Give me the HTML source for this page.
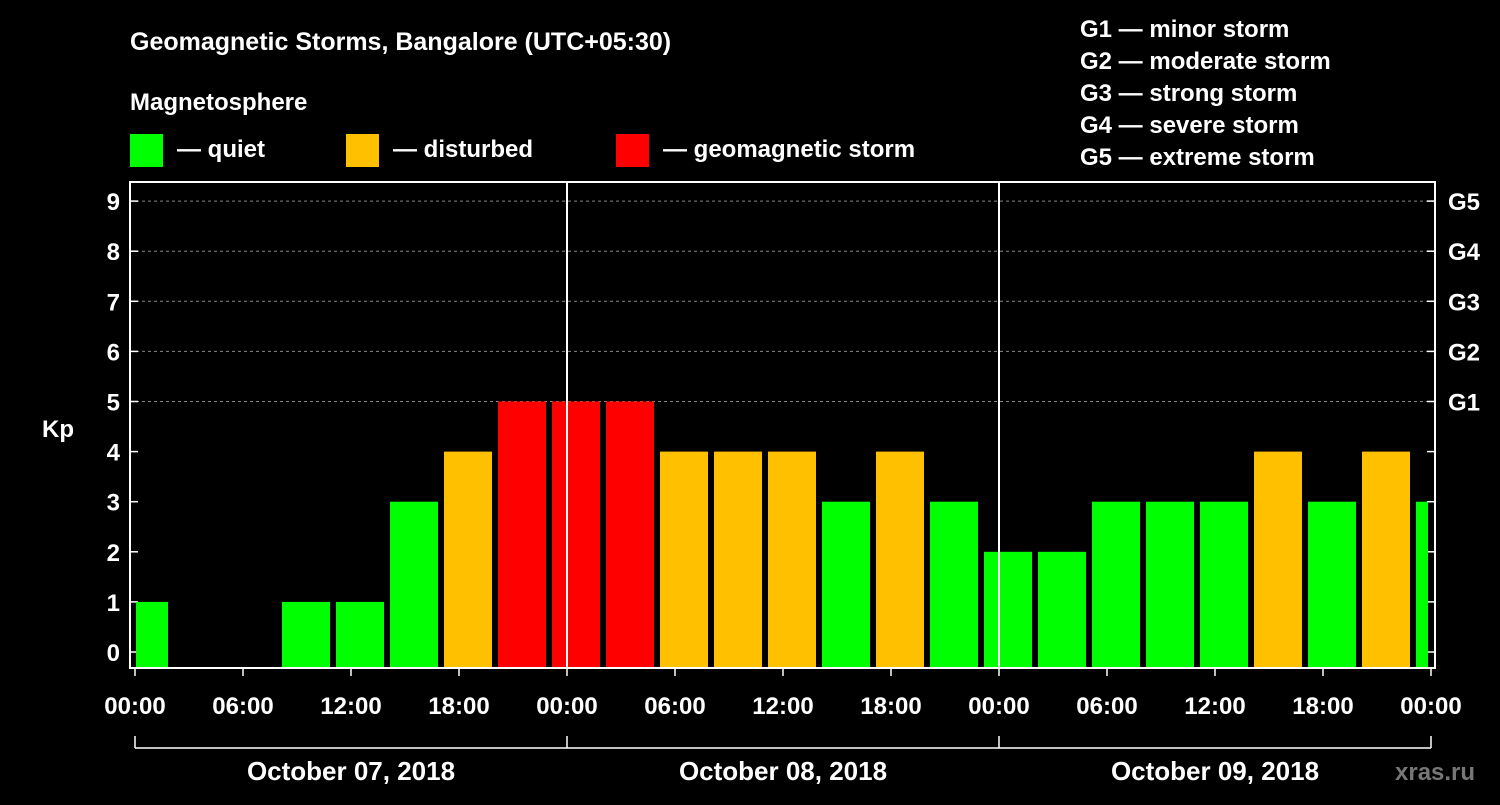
<!DOCTYPE html>
<html><head><meta charset="utf-8"><style>
body{margin:0;background:#000;}
svg text{font-family:"Liberation Sans",Arial,sans-serif;font-weight:bold;fill:#fff;}
</style></head><body>
<svg id="chart" width="1500" height="800" viewBox="0 0 1500 800" xmlns="http://www.w3.org/2000/svg">
<rect width="1500" height="800" fill="#000"/>
<text x="130" y="50" font-size="25">Geomagnetic Storms, Bangalore (UTC+05:30)</text>
<text x="130" y="110" font-size="24">Magnetosphere</text>
<g>
<rect x="130" y="134" width="33" height="33" fill="#00ff00"/>
<text x="177" y="157" font-size="24">— quiet</text>
<rect x="346" y="134" width="33" height="33" fill="#ffc000"/>
<text x="393" y="157" font-size="24">— disturbed</text>
<rect x="616" y="134" width="33" height="33" fill="#ff0000"/>
<text x="663" y="157" font-size="24">— geomagnetic storm</text>
</g>
<g font-size="24">
<text x="1080" y="37">G1 — minor storm</text>
<text x="1080" y="69">G2 — moderate storm</text>
<text x="1080" y="101">G3 — strong storm</text>
<text x="1080" y="133">G4 — severe storm</text>
<text x="1080" y="165">G5 — extreme storm</text>
</g>
<g id="plot"></g>
<text x="42" y="437" font-size="24">Kp</text>
<text x="1395" y="780" font-size="24" style="fill:#777">xras.ru</text>
</svg>
<script>
const kpValues=[1,0,0,1,1,3,4,5,5,5,4,4,4,3,4,3,2,2,3,3,3,4,3,4,3];
const xTickLabels=["00:00","06:00","12:00","18:00","00:00","06:00","12:00","18:00","00:00","06:00","12:00","18:00","00:00"];
const dayLabels=["October 07, 2018","October 08, 2018","October 09, 2018"];
const yTicks=[0,1,2,3,4,5,6,7,8,9];
const gLabels=["G1","G2","G3","G4","G5"];
const NS="http://www.w3.org/2000/svg";
const L=130,R=1435,T=182,B=668,X0=135,dayW=432;
const xh=h=>X0+h*dayW/24;
const y=v=>652-v*50.1;
const g=document.getElementById('plot');
function el(t,a,p){const e=document.createElementNS(NS,t);for(const k in a)e.setAttribute(k,a[k]);(p||g).appendChild(e);return e;}
// grid
yTicks.forEach(v=>{
 if(v>=5){const l=el('line',{x1:L,x2:R,y1:y(v),y2:y(v),stroke:'#888','stroke-dasharray':'3,3','stroke-width':1});
 }
 const t=el('line',{x1:L,x2:L+8,y1:y(v),y2:y(v),stroke:'#fff','stroke-width':1.5});
 const t2=el('line',{x1:R-8,x2:R,y1:y(v),y2:y(v),stroke:'#fff','stroke-width':1.5});
 const lb=el('text',{x:L-10,y:y(v)+9,'font-size':24,'text-anchor':'end'});lb.textContent=v;
 
 
});
gLabels.forEach((s,i)=>{const t=el('text',{x:R+13,y:y(5+i)+9,'font-size':24});t.textContent=s;
 
 });
// bars
const clip=el('clipPath',{id:'pc'});el('rect',{x:L+6,y:T,width:1428-L-6,height:B-T},clip);
kpValues.forEach((v,i)=>{
 if(v<=0)return;
 const x=xh(-0.833+3*i);
 const c=v>=5?'#ff0000':(v>=4?'#ffc000':'#00ff00');
 const r=el('rect',{x:x,y:y(v),width:48,height:B-y(v),fill:c,'clip-path':'url(#pc)'});
 
 
});
// day separators
[1,2].forEach(d=>{el('line',{x1:X0+d*dayW,x2:X0+d*dayW,y1:T,y2:B,stroke:'#fff','stroke-width':2});});
const fr=el('rect',{x:L,y:T,width:R-L,height:B-T,fill:'none',stroke:'#fff','stroke-width':2});


// x ticks
xTickLabels.forEach((s,i)=>{
 const x=xh(i*6);
 el('line',{x1:x,x2:x,y1:B,y2:B+8,stroke:'#fff','stroke-width':1.5});
 const t=el('text',{x:x,y:714,'font-size':24,'text-anchor':'middle'});t.textContent=s;
 
 
});
el('line',{x1:X0,x2:X0+3*dayW,y1:748,y2:748,stroke:'#fff','stroke-width':1.5});
[0,1,2,3].forEach(d=>el('line',{x1:X0+d*dayW,x2:X0+d*dayW,y1:736,y2:748,stroke:'#fff','stroke-width':1.5}));
dayLabels.forEach((s,i)=>{const t=el('text',{x:X0+dayW*(i+0.5),y:780,'font-size':26,'text-anchor':'middle'});t.textContent=s;
 
 });
</script>
</body></html>
